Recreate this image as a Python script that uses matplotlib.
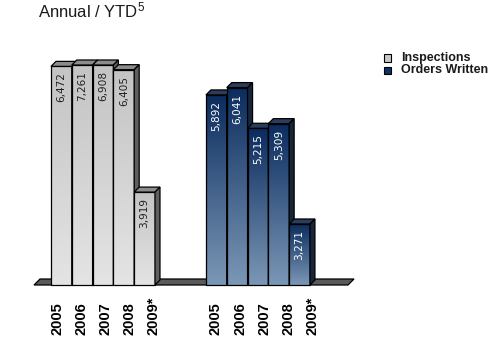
import numpy as np
import matplotlib.pyplot as plt
import matplotlib.transforms as mtransforms
from matplotlib.patches import Polygon, Rectangle

plt.rcParams['font.family'] = ['Liberation Sans', 'DejaVu Sans']
plt.rcParams['mathtext.fontset'] = 'custom'
plt.rcParams['mathtext.rm'] = 'Liberation Sans'
plt.rcParams['mathtext.default'] = 'regular'

# Data
years = ['2005', '2006', '2007', '2008', '2009*']
inspections = [6472, 7261, 6908, 6405, 3919]
orders_written = [5892, 6041, 5215, 5309, 3271]

# Value axis range (bars taller than the top are cut off there)
y_min, y_max = 2032, 6500

W, H = 491, 347
fig = plt.figure(figsize=(W / 100, H / 100), dpi=100)

# Axes placed in pixels: floor runs from x=34 to x=348, baseline at y=285, top at y=65
ax_l, ax_r, ax_base, ax_top = 34, 348, 285, 65
ax = fig.add_axes([ax_l / W, (H - ax_base) / H, (ax_r - ax_l) / W, (ax_base - ax_top) / H])
x_lo, x_hi = -1.317, 13.78
ax.set_xlim(x_lo, x_hi)
ax.set_ylim(y_min, y_max)
ax.axis('off')

# pixel -> data conversions for the 3D depth
px_x = (ax_r - ax_l) / (x_hi - x_lo)
px_y = (ax_base - ax_top) / (y_max - y_min)
dx, dy = 5 / px_x, 5 / px_y

width = 1.0
group1_x = np.arange(len(years)) * 1.0
group2_x = np.arange(len(years)) + 7.45


def gradient_face(x0, x1, y0, y1, c_top, c_bot):
    grad = np.linspace(0, 1, 64)[:, None]
    ct, cb = np.array(c_top), np.array(c_bot)
    img = ct[None, None, :] * (1 - grad[:, :, None]) + cb[None, None, :] * grad[:, :, None]
    im = ax.imshow(img, extent=[x0, x1, y0, y1], origin='upper', aspect='auto',
                   interpolation='bilinear', zorder=3)
    im.set_clip_on(False)


def hex2rgb(h):
    h = h.lstrip('#')
    return [int(h[i:i + 2], 16) / 255 for i in (0, 2, 4)]


def draw_group(xs, values, c_top, c_bot, c_side, c_roof, txt_color):
    for x, v in zip(xs, values):
        top = min(v, y_max)
        x0, x1 = x - width / 2, x + width / 2
        gradient_face(x0, x1, y_min, top, hex2rgb(c_top), hex2rgb(c_bot))
        ax.add_patch(Rectangle((x0, y_min), width, top - y_min, fill=False,
                               edgecolor='black', lw=0.9, zorder=3, clip_on=False))
        roof = Polygon([(x0, top), (x0 + dx, top + dy), (x1 + dx, top + dy), (x1, top)],
                       closed=True, facecolor=c_roof, edgecolor='black', lw=0.9,
                       zorder=3, clip_on=False)
        side = Polygon([(x1, y_min), (x1, top), (x1 + dx, top + dy), (x1 + dx, y_min + dy)],
                       closed=True, facecolor=c_side, edgecolor='black', lw=0.9,
                       zorder=3, clip_on=False)
        ax.add_patch(roof)
        ax.add_patch(side)
        # value label, reading upwards, ending just under the bar top
        trans = mtransforms.offset_copy(ax.transData, fig=fig, x=0, y=-6, units='dots')
        ax.text(x, top, f'{v:,}', transform=trans, rotation=90, rotation_mode='anchor',
                ha='right', va='center', fontsize=7.6, color=txt_color,
                family='DejaVu Sans', zorder=4, clip_on=False)


# Floor
fdx, fdy = 6 / px_x, 6 / px_y
floor = Polygon([(x_lo, y_min), (x_hi, y_min), (x_hi + fdx, y_min + fdy), (x_lo + fdx, y_min + fdy)],
                closed=True, facecolor='#5a5a5a', edgecolor='black', lw=0.9, zorder=1, clip_on=False)
ax.add_patch(floor)

draw_group(group1_x, inspections, '#c4c4c4', '#e4e4e4', '#5f5f5f', '#8c8c8c', '#222222')
draw_group(group2_x, orders_written, '#0b2c5e', '#7b97b6', '#17263d', '#2b3d5a', 'white')

# Year labels under each group
lab_trans = mtransforms.blended_transform_factory(ax.transData, fig.transFigure)
label_step = 1.16
for start in (-0.19, 7.43):
    for i, yr in enumerate(years):
        ax.text(start + i * label_step, 12 / H, yr, transform=lab_trans, rotation=90,
                rotation_mode='anchor', ha='left', va='center', fontsize=10.5,
                fontweight='bold', color='black', clip_on=False)

# Title
fig.text(38 / W, 1 - 17 / H, r'Annual / YTD$^{5}$', fontsize=12, color='#1a1a1a',
         ha='left', va='baseline')

# Legend
legend_items = [('Inspections', '#c8c8c8'), ('Orders Written', '#0d3466')]
for k, (name, col) in enumerate(legend_items):
    yc = 58 + k * 12
    fig.add_artist(Rectangle((384 / W, 1 - (yc + 3.5) / H), 7 / W, 7 / H, facecolor=col,
                             edgecolor='black', lw=0.8, transform=fig.transFigure))
    fig.text(401 / W, 1 - yc / H, name, fontsize=9, fontweight='bold', color='#1a1a1a',
             ha='left', va='center')

fig.savefig('out.png', dpi=100)
